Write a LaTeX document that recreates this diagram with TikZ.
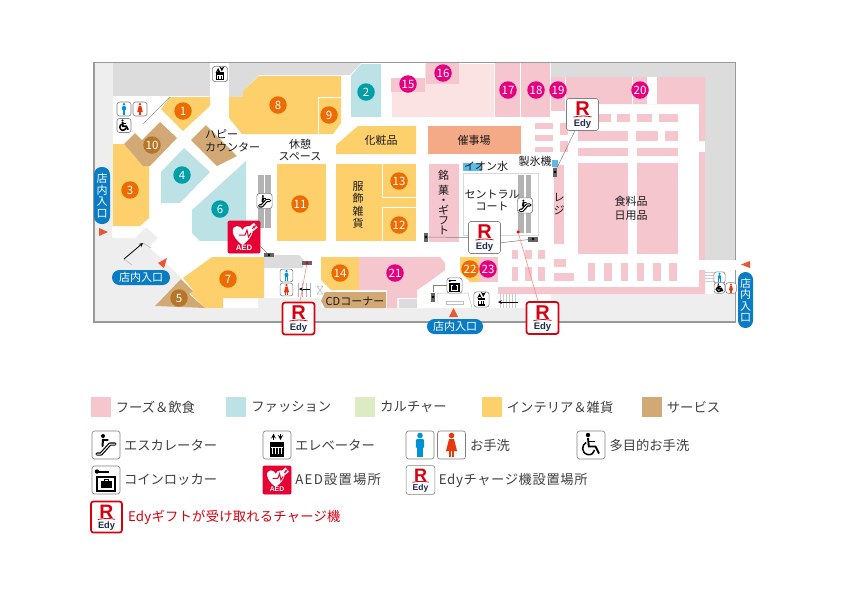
\documentclass[tikz,border=0pt]{standalone}
\usepackage{fontspec}
\setmainfont{Noto Sans CJK JP}
\newfontfamily\logofont{Liberation Sans}
\usepackage{tikz}
\usetikzlibrary{positioning}

\definecolor{foods}{HTML}{F6C6CF}
\definecolor{paleFoods}{HTML}{FBE3E4}
\definecolor{fashion}{HTML}{BDE2E5}
\definecolor{culture}{HTML}{DCEBC4}
\definecolor{interior}{HTML}{FDD06C}
\definecolor{service}{HTML}{D2A974}
\definecolor{salmon}{HTML}{F4A987}
\definecolor{dotOrange}{HTML}{EC6C00}
\definecolor{dotTeal}{HTML}{009FA8}
\definecolor{dotPink}{HTML}{E4007F}
\definecolor{dotBrown}{HTML}{B5762A}
\definecolor{hallGray}{HTML}{EEEEEE}
\definecolor{backGray}{HTML}{DCDCDC}
\definecolor{pillBlue}{HTML}{0A7CC4}
\definecolor{doorRed}{HTML}{EA5532}
\definecolor{manBlue}{HTML}{0092D8}
\definecolor{ladyRed}{HTML}{E8380D}
\definecolor{edyRed}{HTML}{D7000F}
\definecolor{edyNavy}{HTML}{1D2950}
\definecolor{aedRed}{HTML}{E60033}
\definecolor{waterBlue}{HTML}{5BBCE8}

\tikzset{
  numdot/.style={circle, minimum size=17.5, inner sep=0, text=white, font=\fontsize{11.5}{11.5}\selectfont},
  roomtext/.style={inner sep=0, text=black!90, font=\fontsize{11}{12.5}\selectfont, align=center},
  pill/.style={fill=pillBlue, text=white, rounded corners=7.5, inner sep=0, align=center, font=\fontsize{11}{11.5}\selectfont},
  swatch/.style={minimum size=20, inner sep=0},
  legtext/.style={inner sep=0, text=black!75, font=\fontsize{13.3}{13.3}\selectfont},
  iconbox/.style={rectangle, draw=black!50, fill=white, rounded corners=2.5, minimum size=28, inner sep=0, transform shape, line width=.6},
  edyplain/.style={iconbox, minimum size=32},
  edyred/.style={iconbox, minimum size=32, draw=edyRed, line width=1.7},
  marker/.style={fill=black!60, inner sep=0},
  leader/.style={draw=black!50, line width=.5},
  redleader/.style={draw=red!45, line width=.6},
  pics/edyicon/.style={code={
    \node[#1] (-box) at (0,0) {};
    \node[transform shape, text=edyRed, inner sep=0, font=\logofont\bfseries\fontsize{20}{20}\selectfont] (-r) at (0,-5.5) {R};
    \draw[edyRed, line width=.8] (-9,2.6) .. controls (-3,1.2) and (4,1.2) .. (9,2.4);
    \node[transform shape, text=edyNavy, inner sep=0, font=\logofont\bfseries\fontsize{9.5}{9.5}\selectfont] (-t) at (0,9.5) {Edy};
  }},
  pics/escaicon/.style={code={
    \node[iconbox] (-box) at (0,0) {};
    \draw[black, line width=3.4, line cap=round, line join=round] (-9,9) -- (-5,9) -- (4,-1) -- (9,-1);
    \draw[white, line width=1, line cap=round, line join=round] (-9,9) -- (-5,9) -- (4,-1) -- (9,-1);
    \fill[black] (-3,-9) circle[radius=2];
    \draw[black, line width=2, line cap=round] (-3,-5.5) -- (-3.5,1);
    \draw[black, line width=1.2, line cap=round] (-3,-5) -- (2,-5);
  }},
  pics/liftMark/.style={code={
    \node[iconbox] (-box) at (0,0) {};
    \fill[black] (-7,-3) rectangle (7,11.5);
    \foreach \gx in {-4.5,-1.5,1.5,4.5} {\draw[white, line width=.8] (\gx,3) -- (\gx,9);}
    \draw[white, line width=.8] (-6,2.5) -- (6,2.5);
    \draw[-stealth, black, line width=1.2] (-3.5,-5) -- (-3.5,-11.5);
    \draw[-stealth, black, line width=1.2] (3.5,-11.5) -- (3.5,-5);
  }},
  pics/lockericon/.style={code={
    \node[iconbox] (-box) at (0,0) {};
    \fill[black] (-9,-8.5) circle[radius=2.2];
    \fill[black] (-8,-9.5) rectangle (3,-7.5);
    \draw[black, line width=1.8] (-9,-3) rectangle (9,11);
    \fill[black] (-5.5,1) rectangle (5.5,8);
    \draw[black, line width=.9] (-2,1) -- (-2,-1) -- (2,-1) -- (2,1);
  }},
  pics/manicon/.style={code={
    \node[iconbox] (-box) at (0,0) {};
    \fill[manBlue] (0,-9.5) circle[radius=2.8];
    \fill[manBlue, rounded corners=1.2] (-4.2,-6) rectangle (4.2,3);
    \fill[manBlue] (-2.8,2) rectangle (-.3,12);
    \fill[manBlue] (.3,2) rectangle (2.8,12);
  }},
  pics/ladyicon/.style={code={
    \node[iconbox] (-box) at (0,0) {};
    \fill[ladyRed] (0,-9.5) circle[radius=2.8];
    \fill[ladyRed] (-2.5,-6) -- (2.5,-6) -- (5.5,6) -- (-5.5,6) -- cycle;
    \fill[ladyRed] (-2.4,5) rectangle (-.5,12);
    \fill[ladyRed] (.5,5) rectangle (2.4,12);
  }},
  pics/wcicon/.style={code={
    \node[iconbox] (-box) at (0,0) {};
    \fill[black] (-3,-10) circle[radius=2.2];
    \draw[black, line width=1.9] (-3,-7) -- (-2.2,1.5) -- (4.5,1.5) -- (8,8.5);
    \draw[black, line width=1.3] (-2.5,-3.5) -- (3.5,-3.5);
    \draw[black, line width=1.5] (-4.8,-2.5) .. controls (-9.5,-.5) and (-10,8) .. (-3.5,9.5) .. controls (.5,10.3) and (3,8) .. (3.6,5);
  }},
  pics/aedicon/.style={code={
    \node[iconbox, fill=aedRed, draw=aedRed, minimum size=32, rounded corners=1] (-box) at (0,0) {};
    \fill[white] (-1.5,8) .. controls (-14,-1) and (-13,-11) .. (-7,-11) .. controls (-4,-11) and (-2.5,-9) .. (-1.5,-7) .. controls (-.5,-9) and (1,-11) .. (4,-11) .. controls (11,-11) and (11,-1) .. (-1.5,8) -- cycle;
    \draw[aedRed, line width=1] (-5,-2) -- (1,-2) -- (3,-7) -- (4.5,0) -- (7,-4);
    \fill[white, rotate around={40:(9.5,-10)}] (6.5,-13) rectangle (12.5,-7);
    \draw[aedRed, line width=.7] (8,-8) -- (10,-11) -- (10,-9) -- (12,-12);
    \node[transform shape, text=white, inner sep=0, font=\logofont\bfseries\fontsize{7.8}{7.8}\selectfont] (-t) at (0,11) {AED};
  }},
}

\begin{document}
\begin{tikzpicture}[x=1pt, y=-1pt]
  \useasboundingbox (0,0) rectangle (842,595);

  \fill[white] (0,0) rectangle (842,595);
  \fill[hallGray] (95,63) rectangle (735,322);
  \fill[white] (113,63) -- (735,63) -- (735,294) -- (551,294) -- (551,308) -- (322,308) -- (320,298) -- (258,298) -- (258,308) -- (205,308) -- (155,306) -- (182,278) -- (149,247) -- (158,238) -- (146,227) -- (135,238) -- (113,238) -- cycle;
  \fill[backGray] (113,63) rectangle (210,96);
  \fill[backGray] (229,63) -- (361,63) -- (350,75) -- (259,75) -- (243,91) -- (243,97) -- (229,97) -- cycle;
  \fill[backGray] (551,63) -- (735,63) -- (735,260) -- (705,260) -- (705,77) -- (551,77) -- cycle;
  \fill[backGray] (264,255) -- (299,255) -- (303,259) -- (303,268) -- (264,268) -- cycle;
  \fill[backGray] (399,299) rectangle (417,308);
  \draw[black!40, line width=1.3] (94,62.5) rectangle (735.5,322);

  \fill[interior] (170,97) -- (210,97) -- (210,106) -- (183,131) -- (161,109) -- cycle;
  \fill[interior] (229,97) -- (243,97) -- (243,91) -- (259,76) -- (341,76) -- (341,123) -- (333,134) -- (242,134) -- (229,118) -- cycle;
  \fill[interior] (113,144) -- (124,144) -- (143,166) -- (149,166) -- (149,218) -- (140,226) -- (113,226) -- cycle;
  \fill[interior] (212,257) -- (264,257) -- (264,298) -- (223,298) -- (223,308) -- (205,308) -- (190,293) -- (193,290) -- (183,278) -- cycle;
  \fill[interior] (277,164) rectangle (326,241);
  \fill[interior] (336,164) rectangle (416,241);
  \fill[interior] (358,126) -- (416,126) -- (416,154) -- (336,154) -- (336,145) -- cycle;
  \fill[interior] (321,257) -- (359,257) -- (359,290) -- (331,290) -- (321,280) -- cycle;
  \fill[interior] (460,257) -- (479,257) -- (479,282) -- (470,282) -- (460,272) -- cycle;
  \draw[white, line width=.7] (318,134) -- (318,97) -- (341,97);
  \draw[white, line width=.7] (382,164) -- (382,197) -- (416,197);
  \draw[white, line width=.7] (416,207) -- (382,207) -- (382,241);

  \fill[service] (160,122) -- (177,138) -- (150,166) -- (143,166) -- (124,144) -- (135,133) -- (142,140) -- cycle;
  \fill[service] (206,125) -- (237,156) -- (217,166) -- (191,140) -- cycle;
  \fill[service] (181,279) -- (193,291) -- (189,294) -- (205,308) -- (155,306) -- cycle;
  \fill[service] (325,292) -- (386,292) -- (386,308) -- (325,308) -- (321,301) -- cycle;

  \fill[fashion] (184,148) -- (210,172) -- (180,203) -- (161,203) -- (161,172) -- cycle;
  \fill[fashion] (246,161) -- (246,241) -- (200,241) -- (192,233) -- (192,210) -- cycle;
  \fill[fashion] (351,76) -- (361,64) -- (381,64) -- (381,117) -- (351,117) -- cycle;

  \fill[paleFoods] (392,78) -- (425,78) -- (425,64) -- (494,64) -- (494,117) -- (392,117) -- cycle;
  \fill[foods] (359,257) -- (440,257) -- (445,263) -- (445,270) -- (429,282) -- (417,290) -- (417,298) -- (397,298) -- (397,308) -- (387,308) -- (387,290) -- (359,290) -- cycle;
  \fill[salmon] (428,126) rectangle (521,154);
  \fill[foods] (566,77) -- (705,77) -- (705,141) -- (699,141) -- (699,104) -- (566,104) -- cycle;
  \fill[white] (647,77) rectangle (657,104);
  \fill[white] (632,77) rectangle (633,104);
  \fill[foods] (699,152) -- (705,152) -- (705,260) -- (699,260) -- cycle;
  \fill[foods] (699,270) -- (705,270) -- (705,294) -- (498,294) -- (498,287) -- (699,287) -- cycle;
  \foreach \xa/\ya/\xb/\yb in {391/78/425/92, 426/63/459/84, 495/63/520/117, 521/63/550/117, 551/77/565/111, 429/164/459/242, 479/257/498/282,
    598/114/611/122, 617/114/630/122, 637/114/652/122, 659/114/678/122,
    578/131/628/141, 636/131/658/141, 665/131/678/141, 578/148/628/156, 637/148/678/156, 578/163/628/254, 637/163/678/254,
    535/123/553/129, 535/135/553/141, 535/147/553/152, 560/123/568/135, 560/141/568/152, 554/165/564/244,
    512/250/518/259, 525/250/532/259, 538/250/545/259, 512/267/518/281, 525/267/532/281, 538/267/545/281,
    554/259/566/267, 554/273/574/281,
    588/263/595/281, 604/263/612/281, 621/263/628/281, 637/263/644/281, 653/263/661/281, 669/263/677/281} {
    \fill[foods] (\xa,\ya) rectangle (\xb,\yb);
  }

  \draw[black!15, fill=white, line width=.7] (463,173) rectangle (538,235);
  \fill[waterBlue] (463,163) rectangle (482,171);
  \fill[waterBlue] (552,160) rectangle (558,167);
  \foreach \xa/\ya/\xb/\yb in {258/175/264/228, 265/175/271/228, 518/175/524/233, 526/175/531/233} {
    \fill[black!30] (\xa,\ya) rectangle (\xb,\yb);
  }
  \draw[black!25, line width=.5] (437,303) -- (437,293) -- (468,293) -- (472,308);
  \draw[black!25, fill=white, line width=.5] (446,301) rectangle (463,304);
  \foreach \sx in {500,503,506,509,512,515} {\draw[black!20, line width=.4] (\sx,293) -- (\sx,308);}
  \foreach \sy in {272,275,278,281} {\draw[black!20, line width=.4] (705,\sy) -- (714,\sy);}
  \foreach \sx in {298,302,306,310} {\draw[black!30, line width=.4] (\sx,283) -- (\sx,297);}
  \draw[black!30, line width=.5] (317,286) -- (323,286) -- (317,294) -- (323,294) -- cycle;
  \draw[black!30, line width=.5] (124,259) -- (132,265) (143,243) -- (151,248);
  \fill[white] (112,227) rectangle (116,237);
  \fill[white] (733,260) rectangle (738,270);

  \coordinate (walkA) at (170,97);
  \coordinate (walkB) at (143,124);
  \draw[black!40, line width=.6] (walkA) -- (walkB);
  \coordinate (rampA) at (124,259);
  \coordinate (rampB) at (143,243);
  \draw[-stealth, line width=.8] (rampA) -- (rampB);
  \coordinate (stairA) at (518,302);
  \coordinate (stairB) at (498,302);
  \draw[-stealth, line width=.7] (stairA) -- (stairB);
  \coordinate (stairC) at (310,289);
  \coordinate (stairD) at (299,289);
  \draw[-stealth, line width=.7] (stairC) -- (stairD);

  \foreach \name/\num/\x/\y/\col in {
    n1/1/183/111/dotOrange, n2/2/366/92/dotTeal, n3/3/130/190/dotOrange, n4/4/182/175/dotTeal,
    n5/5/179/298/dotBrown, n6/6/220/209/dotTeal, n7/7/228/279/dotOrange, n8/8/278/105/dotOrange,
    n9/9/329/115/dotOrange, n10/10/152/145/dotBrown, n11/11/300/204/dotOrange, n12/12/399/225/dotOrange,
    n13/13/399/181/dotOrange, n14/14/340/273/dotOrange, n15/15/408/84/dotPink, n16/16/443/73/dotPink,
    n17/17/508/90/dotPink, n18/18/536/90/dotPink, n19/19/558/90/dotPink, n20/20/640/90/dotPink,
    n21/21/395/273/dotPink, n22/22/470/269/dotOrange, n23/23/488/269/dotPink} {
    \node[numdot, fill=\col] (\name) at (\x,\y) {\num};
  }

  \node[roomtext, align=left] (happy) at (232.5,141) {ハピー\\カウンター};
  \node[roomtext] (rest) at (300,150) {休憩\\スペース};
  \node[roomtext] (cosme) at (381,140) {化粧品};
  \node[roomtext] (event) at (474,140) {催事場};
  \node[roomtext] (wear) at (358,205) {服\\飾\\雑\\貨};
  \node[roomtext, font=\fontsize{11}{10}\selectfont] (gift) at (443.5,202.5) {銘\\[3pt]菓\\・\\ギ\\フ\\ト};
  \node[roomtext] (ionwater) at (486,166) {イオン水};
  \node[roomtext] (icemaker) at (535,161) {製氷機};
  \node[roomtext] (court) at (492,200.5) {セントラル\\コート};
  \node[roomtext] (register) at (559,204) {レ\\ジ};
  \node[roomtext, font=\fontsize{11}{14}\selectfont] (grocery) at (631,208) {食料品\\日用品};
  \node[roomtext] (cdshop) at (355,301) {CDコーナー};

  \node[pill, minimum width=16, minimum height=57] (gateW) at (102,195.5) {店\\内\\入\\口};
  \node[pill, minimum width=58, minimum height=15] (gateS) at (141,277.5) {店内入口};
  \node[pill, minimum width=56, minimum height=15] (gateM) at (455,326.5) {店内入口};
  \node[pill, minimum width=15, minimum height=56] (gateE) at (745.5,300) {店\\内\\入\\口};
  \fill[doorRed] (99,228) -- (108,232) -- (99,236) -- cycle;
  \fill[doorRed] (167,258) -- (158,263) -- (164,268) -- cycle;
  \fill[doorRed] (453.5,308) -- (458,317) -- (449,317) -- cycle;
  \fill[doorRed] (750,261) -- (741,264.5) -- (750,268) -- cycle;

  \foreach \name/\x/\y/\w/\h in {mkAed/269/255/10/4, mkWc/307/263/10/4, mkGift/426/237/4/9, mkLock/433/297/4/9, mkCtr/533/239/10/5, mkIce/555/172/4/9} {
    \node[marker, minimum width=\w, minimum height=\h] (\name) at (\x,\y) {};
    \fill[black] (\name) circle[radius=1.4];
  }
  \fill[red] (mkWc) circle[radius=1.4];
  \node[circle, fill=red, inner sep=0, minimum size=3.5] (redDot) at (518,232) {};

  \pic[scale=.54] (liftTop) at (220,74) {liftMark};
  \pic[scale=.5] (manW) at (124,109) {manicon};
  \pic[scale=.5] (ladyW) at (140,109) {ladyicon};
  \pic[scale=.5] (wcW) at (124,125.5) {wcicon};
  \pic[scale=.54] (escW) at (264.5,201) {escaicon};
  \pic[scale=.54] (escC) at (525,205.5) {escaicon};
  \pic[scale=.46] (manS) at (286.5,275.5) {manicon};
  \pic[scale=.46] (ladyS) at (286.5,289.5) {ladyicon};
  \pic[scale=.54] (lockS) at (454.5,285.5) {lockericon};
  \pic[scale=.54] (liftS) at (481.5,299.5) {liftMark};
  \pic[scale=.4] (manE) at (719.5,277.5) {manicon};
  \pic[scale=.38] (wcE) at (719.5,288) {wcicon};
  \pic[scale=.38] (ladyE) at (731,288) {ladyicon};
  \pic (aedMap) at (244,237) {aedicon};
  \pic (edyU) at (582.5,114.5) {edyicon=edyplain};
  \pic (edyC) at (484.5,237.5) {edyicon=edyplain};
  \pic (edyL) at (298.5,318.5) {edyicon=edyred};
  \pic (edyB) at (542.5,318) {edyicon=edyred};

  \draw[leader] (aedMap-box.-30) -- (mkAed);
  \draw[leader] (edyC-box.west) -- (mkGift);
  \draw[leader] (edyC-box.-18) -- (mkCtr);
  \draw[leader] (edyU-box.245) -- (mkIce);
  \draw[leader] (lockS-box.west) -| (mkLock.north);
  \draw[redleader] (redDot) -- (edyB-box.105);
  \draw[redleader] (mkWc) -- (edyL-box.85);

  \node[swatch, fill=foods] (swFood) at (101,407) {};
  \node[legtext, right=4.5pt of swFood] (txFood) {フーズ＆飲食};
  \node[swatch, fill=fashion] (swWear) at (236,407) {};
  \node[legtext, right=5pt of swWear] (txWear) {ファッション};
  \node[swatch, fill=culture] (swCult) at (365,407) {};
  \node[legtext, right=5pt of swCult] (txCult) {カルチャー};
  \node[swatch, fill=interior] (swInt) at (492,407) {};
  \node[legtext, right=4.5pt of swInt] (txInt) {インテリア＆雑貨};
  \node[swatch, fill=service] (swServ) at (652,407) {};
  \node[legtext, right=4.5pt of swServ] (txServ) {サービス};

  \pic (legEsc) at (106,445) {escaicon};
  \node[legtext, right=3.5pt of legEsc-box] (txEsc) {エスカレーター};
  \pic (legLift) at (277,445) {liftMark};
  \node[legtext, right=3.5pt of legLift-box] (txLift) {エレベーター};
  \pic (legMan) at (420,445) {manicon};
  \pic (legLady) at (451.5,445) {ladyicon};
  \node[legtext, right=4pt of legLady-box] (txToilet) {お手洗};
  \pic (legWc) at (591,445) {wcicon};
  \node[legtext, right=4pt of legWc-box] (txWc) {多目的お手洗};
  \pic (legLock) at (106,480) {lockericon};
  \node[legtext, right=3.5pt of legLock-box] (txLock) {コインロッカー};
  \pic[scale=.875] (legAed) at (277,480) {aedicon};
  \node[legtext, right=4pt of legAed-box] (txAed) {\addfontfeature{LetterSpace=9}AED設置場所};
  \pic[scale=.9] (legEdy) at (420.5,480) {edyicon=edyplain};
  \node[legtext, right=3.5pt of legEdy-box] (txEdy) {\addfontfeature{LetterSpace=4.5}Edyチャージ機設置場所};
  \pic[scale=.97] (legGift) at (106.5,517) {edyicon=edyred};
  \node[legtext, right=5pt of legGift-box, text=edyRed] (txGift) {\addfontfeature{LetterSpace=1.8}Edyギフトが受け取れるチャージ機};
\end{tikzpicture}
\end{document}
